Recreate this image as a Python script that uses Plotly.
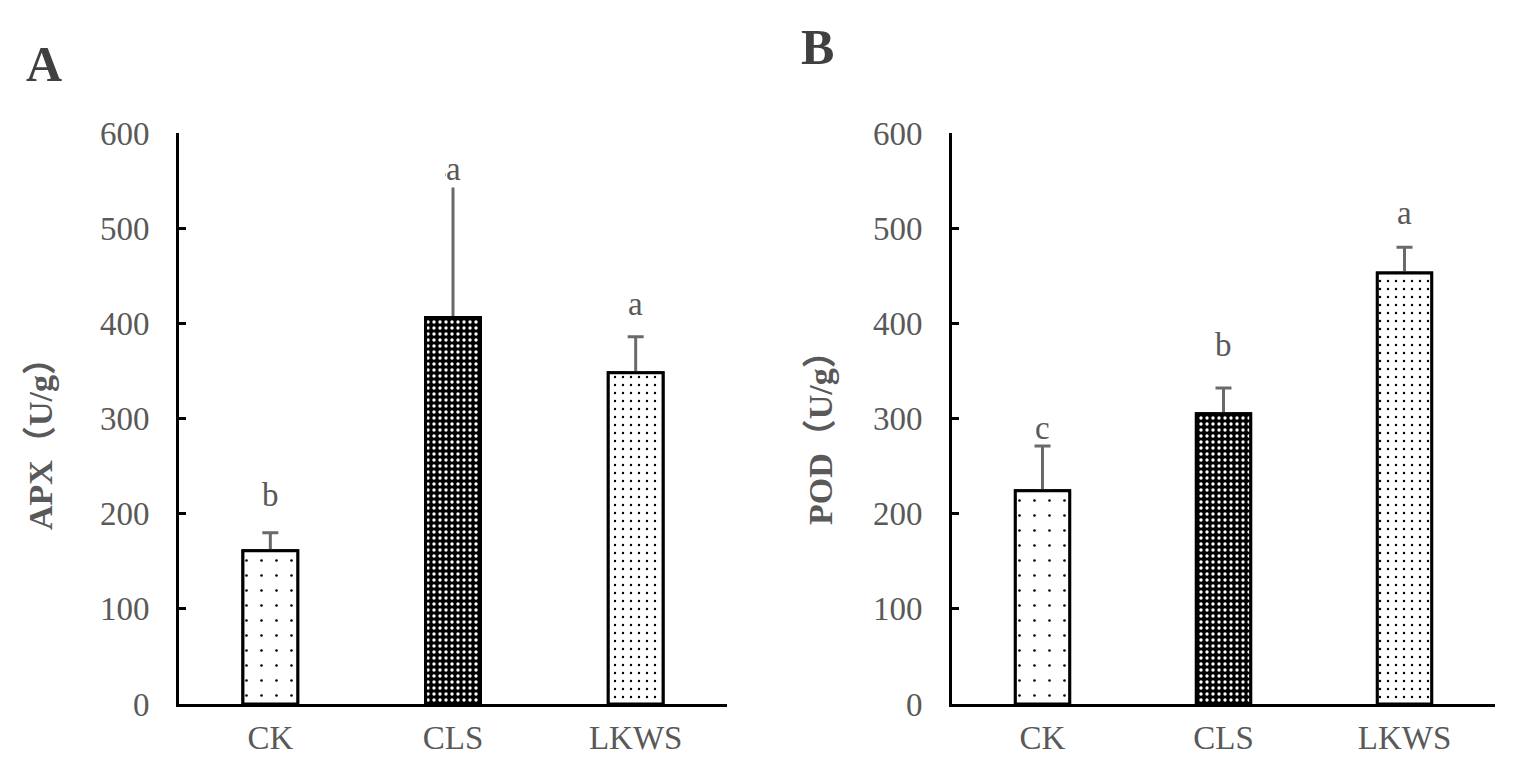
import plotly.graph_objects as go

categories = ["CK", "CLS", "LKWS"]

apx_mean = [161, 406, 348]
apx_err = [19, 150, 38]
apx_letters = ["b", "a", "a"]
apx_letter_y = [220, 562, 420]

pod_mean = [224, 305, 453]
pod_err = [47, 27, 27]
pod_letters = ["c", "b", "a"]
pod_letter_y = [290, 377, 516]

y_ticks = [0, 100, 200, 300, 400, 500, 600]

FONT = "Liberation Serif, Times New Roman, Noto Sans CJK SC, serif"
GRAY = "#595959"

# bar fill styles per category
fill_bg = ["white", "black", "white"]
fill_fg = ["black", "white", "black"]
fill_size = [15, 6, 8]
fill_solid = [0.024, 0.25, 0.07]

# page is offset by the browser body margin (8px); figure sized to fit viewport
OFF = 8
W, H = 1537 - 2 * OFF, 783 - 2 * OFF


def fx(px):
    return (px - OFF) / W


def fy(py):
    return 1 - (py - OFF) / H


fig = go.Figure()


def bar_marker(i):
    return dict(color=fill_bg[i], line=dict(color="black", width=3),
                pattern=dict(shape=".", size=fill_size[i], solidity=fill_solid[i],
                             fgcolor=fill_fg[i], bgcolor=fill_bg[i],
                             fillmode="replace", fgopacity=1))


def add_panel(xa, ya, means, errs):
    for i, cat in enumerate(categories):
        fig.add_trace(go.Bar(
            x=[cat], y=[means[i]], width=0.3, xaxis=xa, yaxis=ya, marker=bar_marker(i),
            error_y=dict(type="data", array=[errs[i]], arrayminus=[0], symmetric=False,
                         color="#6a6a6a", thickness=3, width=8),
            showlegend=False, hoverinfo="skip"))
    # redraw bars on top to hide the lower caps of the error bars
    for i, cat in enumerate(categories):
        fig.add_trace(go.Bar(
            x=[cat], y=[means[i]], width=0.3, xaxis=xa, yaxis=ya, marker=bar_marker(i),
            showlegend=False, hoverinfo="skip"))


add_panel("x", "y", apx_mean, apx_err)
add_panel("x2", "y2", pod_mean, pod_err)

for cat, ly, t in zip(categories, apx_letter_y, apx_letters):
    fig.add_annotation(x=cat, y=ly, xref="x", yref="y", text=t, showarrow=False,
                       bgcolor="white", borderpad=0,
                       font=dict(family=FONT, size=33, color=GRAY))
for cat, ly, t in zip(categories, pod_letter_y, pod_letters):
    fig.add_annotation(x=cat, y=ly, xref="x2", yref="y2", text=t, showarrow=False,
                       font=dict(family=FONT, size=33, color=GRAY))

# panel letters
fig.add_annotation(x=fx(44), y=fy(64), xref="paper", yref="paper", text="<b>A</b>",
                   showarrow=False, xanchor="center", yanchor="middle",
                   font=dict(family=FONT, size=50, color="#404040"))
fig.add_annotation(x=fx(817), y=fy(47), xref="paper", yref="paper", text="<b>B</b>",
                   showarrow=False, xanchor="center", yanchor="middle",
                   font=dict(family=FONT, size=50, color="#404040"))

# y-axis titles
fig.add_annotation(x=fx(40), y=fy(436), xref="paper", yref="paper", text="<b>APX（U/g）</b>",
                   showarrow=False, textangle=-90, xanchor="center", yanchor="middle",
                   font=dict(family=FONT, size=34, color=GRAY))
fig.add_annotation(x=fx(820), y=fy(430), xref="paper", yref="paper", text="<b>POD（U/g）</b>",
                   showarrow=False, textangle=-90, xanchor="center", yanchor="middle",
                   font=dict(family=FONT, size=34, color=GRAY))

ydom = [fy(704), fy(133)]
xcommon = dict(showline=True, linecolor="black", linewidth=3, ticks="", showgrid=False,
               tickfont=dict(family=FONT, size=33, color=GRAY), ticklabelstandoff=2,
               zeroline=False, fixedrange=True, automargin=False)
ycommon = dict(range=[0, 600], tickvals=y_ticks, showline=True, linecolor="black", linewidth=3,
               ticks="inside", ticklen=7, tickwidth=3, tickcolor="black", showgrid=False,
               zeroline=False, tickfont=dict(family=FONT, size=33, color=GRAY),
               ticklabelstandoff=20, fixedrange=True, automargin=False)

fig.update_layout(
    width=W, height=H,
    margin=dict(l=0, r=0, t=0, b=0, autoexpand=False),
    paper_bgcolor="white", plot_bgcolor="white",
    barmode="overlay",
    xaxis=dict(domain=[fx(179), fx(727)], anchor="y", **xcommon),
    yaxis=dict(domain=ydom, anchor="x", **ycommon),
    xaxis2=dict(domain=[fx(952), fx(1495)], anchor="y2", **xcommon),
    yaxis2=dict(domain=ydom, anchor="x2", **ycommon),
)

fig.write_html("out.html")
